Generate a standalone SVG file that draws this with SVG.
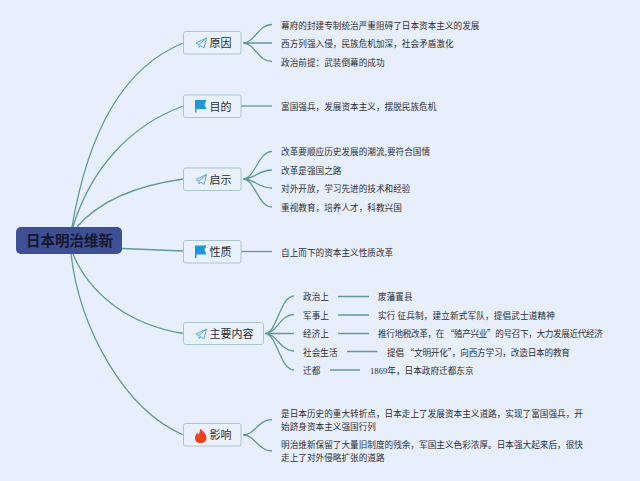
<svg xmlns="http://www.w3.org/2000/svg" width="640" height="481" viewBox="0 0 640 481">
<style>
text{font-family:"Noto Sans CJK SC","Noto Sans",sans-serif}
.c{fill:none;stroke:#5f9b92;stroke-width:1.300}
.n{fill:#e9f1fa;stroke:#a9c6cf;stroke-width:1}
.t{font-size:11px;fill:#2c2c33}
.l{font-size:8.65px;fill:#2e2e33}
.p{fill:none;stroke:#4aa3e2;stroke-width:.9;stroke-linejoin:round}
.f{fill:#1f97dc}
</style>
<defs>
<g id="plane"><path class="p" d="M0 5L10.500 0L8 10L4.500 7.500L3.200 9.500L2.800 6.500ZM2.800 6.500L10.500 0"/></g>
<g id="flag"><path class="f" d="M0 0H11.500L9.500 4.500L11.500 9H1.500V12.500H0Z"/></g>
</defs>
<rect width="640" height="481" fill="#e8effc"/>
<g id="connectors">
<path class="c" d="M72 227C85 150 115 70 183.500 43"/>
<path class="c" d="M73 227C90 170 130 125 183.500 106"/>
<path class="c" d="M77 227C100 200 140 185 183.500 179"/>
<path class="c" d="M122 248.500L183.500 251"/>
<path class="c" d="M73 254C90 295 130 325 183.500 333.500"/>
<path class="c" d="M71 254C80 330 125 410 183.500 435"/>
<path class="c" d="M243 43C255 43 258 24.500 272 24.500M243 43H272M243 43C255 43 258 61.500 272 61.500"/>
<path class="c" d="M241 106H272"/>
<path class="c" d="M243 179C255 179 258 151.500 272 151.500M243 179C255 179 258 170 272 170M243 179C255 179 258 188 272 188M243 179C255 179 258 207 272 207"/>
<path class="c" d="M241 251.500H272"/>
<path class="c" d="M265 333.500C277 333.500 280 296 294 296M265 333.500C277 333.500 280 314.500 294 314.500M265 333.500H294M265 333.500C277 333.500 280 351 294 351M265 333.500C277 333.500 280 370 294 370"/>
<path class="c" d="M338 296.500H369M338 315H369M338 333.500H369M347 351.500H377.500M330 370H360"/>
<path class="c" d="M243 435C255 435 258 419.500 272 419.500M243 435C255 435 258 451 272 451"/>
</g>
<g id="root"><rect x="16" y="227" width="106" height="27" rx="5" fill="#3f4f96"/><text x="26" y="246" font-size="14.500px" font-weight="700" fill="#15172b">日本明治维新</text></g>
<g id="n-yuanyin"><rect class="n" x="183.500" y="31.500" width="57.500" height="22.500" rx="2"/><use href="#plane" x="196" y="38"/><text class="t" x="209.500" y="47">原因</text></g>
<g id="n-mudi"><rect class="n" x="183.500" y="95" width="57.500" height="22.500" rx="2"/><use href="#flag" x="195" y="100"/><text class="t" x="209.500" y="110.500">目的</text></g>
<g id="n-qishi"><rect class="n" x="183.500" y="168" width="57.500" height="22.500" rx="2"/><use href="#plane" x="196" y="174.500"/><text class="t" x="209.500" y="183.500">启示</text></g>
<g id="n-xingzhi"><rect class="n" x="183.500" y="240.500" width="57.500" height="22.500" rx="2"/><use href="#flag" x="195" y="245.500"/><text class="t" x="209.500" y="256">性质</text></g>
<g id="n-neirong"><rect class="n" x="183.500" y="322.500" width="80" height="22" rx="2"/><use href="#plane" x="196" y="329"/><text class="t" x="209.500" y="337.500">主要内容</text></g>
<g id="n-yingxiang"><rect class="n" x="183.500" y="423.500" width="57.500" height="22.500" rx="2"/><path d="M200.500 428.500C203 432 206.500 433.500 206.500 438C206.500 441.500 204 443 200.500 443C197 443 195 441 195 438C195 435.500 196.500 434 197 432.500L198.500 434.500C199.500 433 200 431 200.500 428.500Z" fill="#f0401c"/><text class="t" x="209.500" y="439">影响</text></g>
<g id="leaves">
<text class="l" x="281" y="28.500">幕府的封建专制统治严重阻碍了日本资本主义的发展</text>
<text class="l" x="281" y="47">西方列强入侵，民族危机加深，社会矛盾激化</text>
<text class="l" x="281" y="65.500">政治前提：武装倒幕的成功</text>
<text class="l" x="281" y="110">富国强兵，发展资本主义，摆脱民族危机</text>
<text class="l" x="281" y="155">改革要顺应历史发展的潮流,要符合国情</text>
<text class="l" x="281" y="174">改革是强国之路</text>
<text class="l" x="281" y="192">对外开放，学习先进的技术和经验</text>
<text class="l" x="281" y="210.500">重视教育，培养人才，科教兴国</text>
<text class="l" x="281" y="255.500">自上而下的资本主义性质改革</text>
<text class="l" x="303" y="300">政治上</text>
<text class="l" x="378" y="300">废藩置县</text>
<text class="l" x="303" y="318.500">军事上</text>
<text class="l" x="378" y="318.500" textLength="177" lengthAdjust="spacing">实行 征兵制，建立新式军队，提倡武士道精神</text>
<text class="l" x="303" y="337">经济上</text>
<text class="l" x="378" y="337" textLength="225" lengthAdjust="spacing">推行地税改革，在 “殖产兴业”的号召下，大力发展近代经济</text>
<text class="l" x="303" y="355.500">社会生活</text>
<text class="l" x="387" y="355.500" textLength="183" lengthAdjust="spacing">提倡 “文明开化”，向西方学习，改造日本的教育</text>
<text class="l" x="303" y="374">迁都</text>
<text class="l" x="370" y="374"><tspan font-family="Liberation Serif">1869</tspan>年，日本政府迁都东京</text>
<text class="l" x="281" y="417">是日本历史的重大转折点，日本走上了发展资本主义道路，实现了富国强兵，开</text>
<text class="l" x="281" y="430">始跻身资本主义强国行列</text>
<text class="l" x="281" y="448">明治维新保留了大量旧制度的残余，军国主义色彩浓厚。日本强大起来后，很快</text>
<text class="l" x="281" y="461">走上了对外侵略扩张的道路</text>
</g>
</svg>
